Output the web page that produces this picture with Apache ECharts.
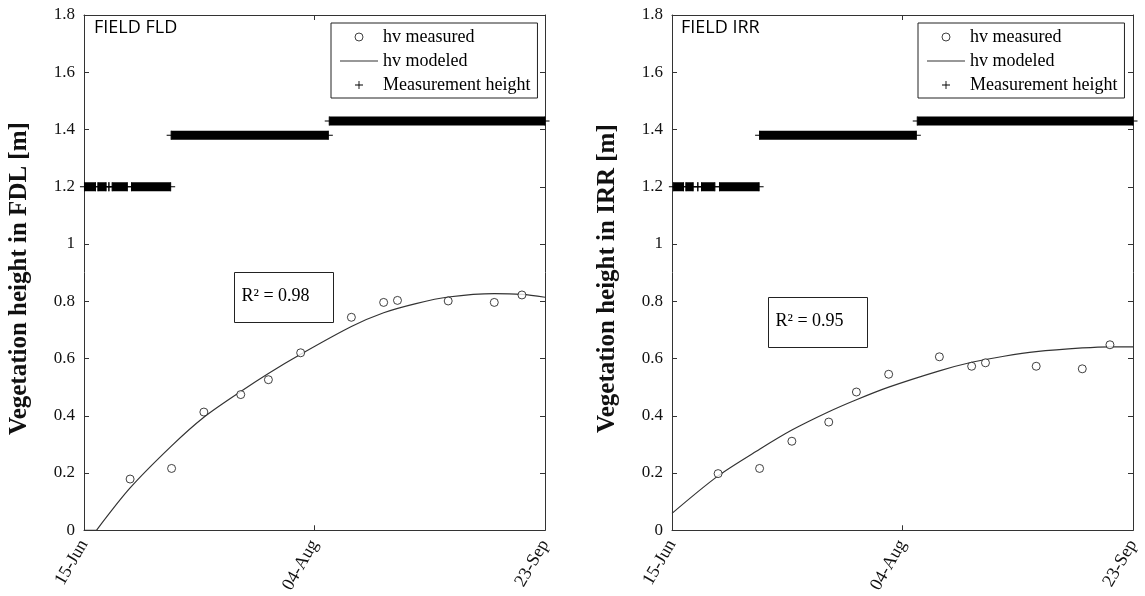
<!DOCTYPE html>
<html>
<head>
<meta charset="utf-8">
<title>Vegetation height FLD / IRR</title>
<script src="https://cdn.jsdelivr.net/npm/echarts@6/dist/echarts.min.js"></script>
<style>
  html, body { margin: 0; padding: 0; background: #fff; }
  #chart { width: 1145px; height: 596px; }
</style>
</head>
<body>
<div id="chart"></div>
<script>
// Days are counted from 15 June (day 0) to 23 September (day 100).
const xTickDays = [0, 50, 100];
const xTickLabels = ['15-Jun', '04-Aug', '23-Sep'];

// Field sampling days and measured vegetation height hv [m]
const measuredDays = [10, 19, 26, 34, 40, 47, 58, 65, 68, 79, 89, 95];
const fldMeasured = [0.179, 0.216, 0.413, 0.474, 0.526, 0.620, 0.744, 0.796, 0.803, 0.801, 0.796, 0.822];
const irrMeasured = [0.198, 0.216, 0.311, 0.378, 0.483, 0.545, 0.606, 0.573, 0.585, 0.573, 0.564, 0.648];

// Modeled vegetation height hv [m]; FLD is held at zero until emergence (day 2.7)
const fldZeroDays = [0, 2.7];
const fldModelDays = [2.7, 10, 19, 26, 34, 40, 47, 58, 65, 72, 79, 89, 95, 100];
const fldModel = [0, 0.148, 0.295, 0.395, 0.485, 0.548, 0.615, 0.712, 0.760, 0.792, 0.815, 0.827, 0.824, 0.814];
const irrModelDays = [0, 10, 19, 26, 34, 40, 47, 58, 65, 72, 79, 89, 95, 100];
const irrModel = [0.059, 0.190, 0.283, 0.350, 0.414, 0.456, 0.500, 0.557, 0.587, 0.608, 0.624, 0.637, 0.641, 0.641];

// Sensor measurement height periods: [first day, last day, height m]
const fldSensorPeriods = [[0.1, 2.5, 1.2], [3.0, 4.8, 1.2], [5.4, 5.4, 1.2], [6.1, 9.4, 1.2], [10.3, 18.8, 1.2], [18.9, 53.0, 1.38], [53.2, 100, 1.43]];
const irrSensorPeriods = [[0.3, 2.5, 1.2], [3.0, 4.6, 1.2], [5.6, 5.6, 1.2], [6.4, 9.3, 1.2], [10.3, 18.9, 1.2], [19.0, 53.0, 1.38], [53.2, 100, 1.43]];

const panelTitles = ['FIELD FLD', 'FIELD IRR'];
const yAxisTitles = ['Vegetation height in FDL [m]', 'Vegetation height in IRR [m]'];
const r2Labels = ['R\u00b2 = 0.98', 'R\u00b2 = 0.95'];

const SERIF = 'Liberation Serif, Times New Roman, serif';
const INK = '#111';
const FRAME = '#333';
const PLUS = 'path://M0,4H9V5H0Z M4,0H5V9H4Z';
const DASH = 'path://M0,0H38V1H0Z';

function zip(xs, ys) { return xs.map((x, i) => [x, ys[i]]); }

// consecutive runs joined by a '-' gap so each run is drawn on its own
function joinRuns(runs) {
  const out = [];
  runs.forEach((run, i) => {
    if (i > 0) out.push([run[0][0], '-']);
    run.forEach(p => out.push(p));
  });
  return out;
}

function periodsToRuns(periods) {
  return joinRuns(periods.map(p => [[p[0], p[2]], [p[1], p[2]]]));
}

function xAxes(gridIndex) {
  const base = {
    type: 'value', gridIndex, min: 0, max: 100, interval: 50,
    splitLine: { show: false },
    axisLine: { show: true, onZero: false, lineStyle: { color: FRAME, width: 1 } },
    axisTick: { show: true, inside: true, length: 5, lineStyle: { color: FRAME } }
  };
  return [
    Object.assign({}, base, {
      position: 'bottom',
      axisLabel: {
        rotate: 60, margin: 11, fontFamily: SERIF, fontSize: 18, color: INK,
        showMinLabel: true, showMaxLabel: true,
        formatter: v => { const k = xTickDays.indexOf(v); return k >= 0 ? xTickLabels[k] : ''; }
      }
    }),
    Object.assign({}, base, { position: 'top', axisLabel: { show: false } })
  ];
}

function yAxes(gridIndex) {
  const base = {
    type: 'value', gridIndex, min: 0, max: 1.8, interval: 0.2,
    splitLine: { show: false },
    axisLine: { show: true, onZero: false, lineStyle: { color: FRAME, width: 1 } },
    axisTick: { show: true, inside: true, length: 5, lineStyle: { color: FRAME } }
  };
  return [
    Object.assign({}, base, {
      position: 'left',
      name: yAxisTitles[gridIndex], nameLocation: 'middle', nameGap: 52,
      nameTextStyle: { fontFamily: SERIF, fontSize: 25, fontWeight: 'bold', color: INK, padding: [0, 12, 0, 0] },
      axisLabel: { margin: 9, fontFamily: SERIF, fontSize: 17, color: INK, showMinLabel: true, showMaxLabel: true }
    }),
    Object.assign({}, base, { position: 'right', axisLabel: { show: false } })
  ];
}

function panelSeries(gridIndex, measured, modelRuns, periods) {
  const ax = { xAxisIndex: gridIndex * 2, yAxisIndex: gridIndex * 2 };
  return [
    Object.assign({
      name: 'Measurement height', type: 'line',
      data: periodsToRuns(periods),
      connectNulls: false,
      symbol: PLUS, symbolSize: 9, showSymbol: true, showAllSymbol: true,
      itemStyle: { color: '#000' },
      lineStyle: { color: '#000', width: 9, cap: 'butt' },
      silent: true, z: 2
    }, ax),
    Object.assign({
      name: 'hv modeled', type: 'line',
      data: joinRuns(modelRuns),
      connectNulls: false,
      smooth: 0.3, symbol: 'none',
      lineStyle: { color: '#333', width: 1.2 },
      silent: true, z: 3
    }, ax),
    Object.assign({
      name: 'hv measured', type: 'scatter',
      data: zip(measuredDays, measured),
      symbol: 'circle', symbolSize: 8,
      itemStyle: { color: '#fff', borderColor: '#111', borderWidth: 1 },
      silent: true, z: 4
    }, ax)
  ];
}

function legendFor(left) {
  return {
    left, top: 23, orient: 'vertical',
    backgroundColor: '#fff', borderColor: '#222', borderWidth: 1,
    padding: [5, 7, 4, 9], itemGap: 6, itemWidth: 38, itemHeight: 8,
    selectedMode: false,
    textStyle: { fontFamily: SERIF, fontSize: 18, color: '#000' },
    data: [
      { name: 'hv measured', icon: 'circle', itemStyle: { color: '#fff', borderColor: '#111', borderWidth: 1 } },
      { name: 'hv modeled', icon: DASH, itemStyle: { color: '#333', borderWidth: 0 } },
      { name: 'Measurement height', icon: PLUS, itemStyle: { color: '#000', borderWidth: 0 } }
    ]
  };
}

function r2Box(x, y, text) {
  return {
    type: 'group', left: x, top: y,
    children: [
      { type: 'rect', shape: { x: 0, y: 0, width: 99, height: 50 },
        style: { fill: '#fff', stroke: '#222', lineWidth: 1 } },
      { type: 'text', x: 7, y: 24,
        style: { text, fontFamily: SERIF, fontSize: 18, fill: '#000', verticalAlign: 'middle' } }
    ]
  };
}

const chart = echarts.init(document.getElementById('chart'), null, { renderer: 'canvas' });
chart.setOption({
  backgroundColor: '#fff',
  animation: false,
  grid: [
    { left: 84, top: 15, width: 461, height: 517 },
    { left: 672, top: 15, width: 461, height: 517 }
  ],
  xAxis: xAxes(0).concat(xAxes(1)),
  yAxis: yAxes(0).concat(yAxes(1)),
  legend: [legendFor(331), legendFor(918)],
  series: panelSeries(0, fldMeasured,
      [zip(fldZeroDays, [0, 0]), zip(fldModelDays, fldModel)], fldSensorPeriods)
    .concat(panelSeries(1, irrMeasured,
      [zip(irrModelDays, irrModel)], irrSensorPeriods)),
  graphic: [
    { type: 'text', left: 94, top: 19,
      style: { text: panelTitles[0], fontFamily: 'Open Sans', fontSize: 18, fill: '#000' } },
    { type: 'text', left: 681, top: 19,
      style: { text: panelTitles[1], fontFamily: 'Open Sans', fontSize: 18, fill: '#000' } },
    r2Box(234, 272, r2Labels[0]),
    r2Box(768, 297, r2Labels[1])
  ]
});
</script>
</body>
</html>
